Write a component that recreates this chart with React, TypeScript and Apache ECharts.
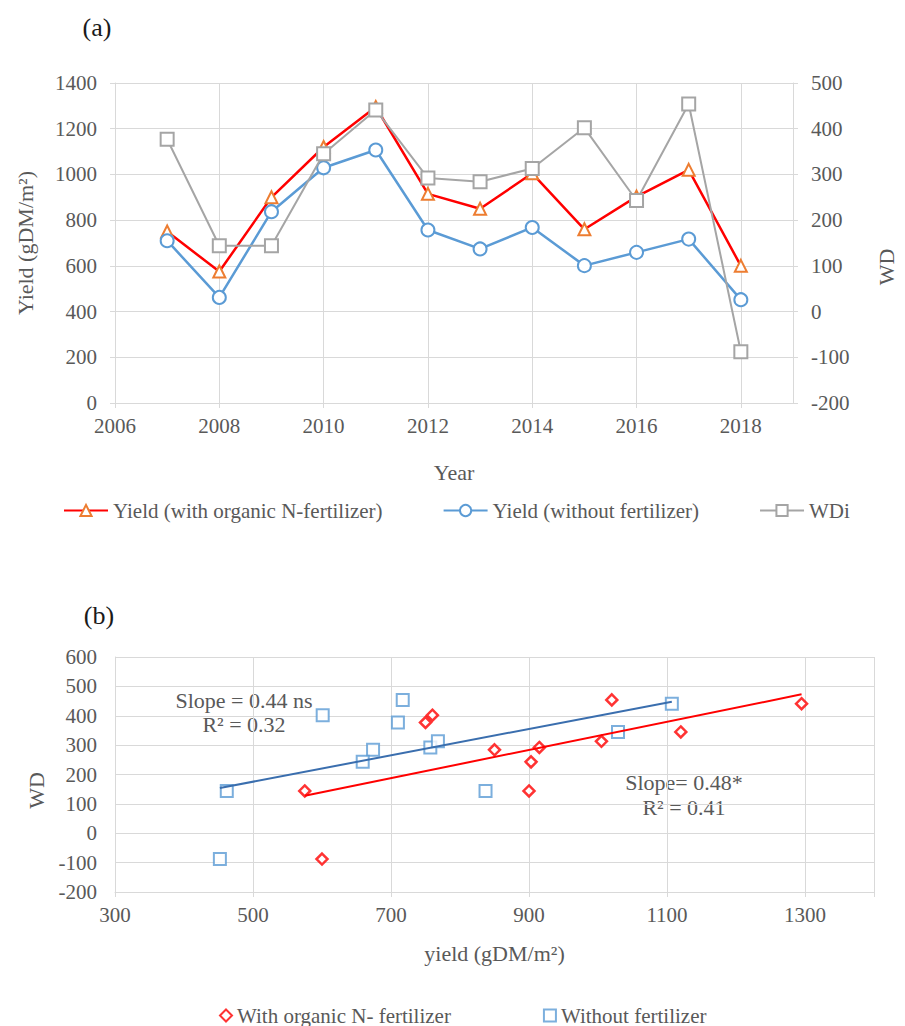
import React, { useEffect, useRef } from "react";
import * as echarts from "echarts";

// ---- data ----
const years = [2007, 2008, 2009, 2010, 2011, 2012, 2013, 2014, 2015, 2016, 2017, 2018];
const yieldOrganic = [750, 575, 900, 1120, 1295, 915, 850, 1005, 760, 903, 1020, 600];
const yieldNoFert = [710, 462, 837, 1029, 1107, 757, 674, 768, 601, 659, 717, 452];
const wdi = [377, 144, 144, 345, 441, 292, 284, 313, 402, 243, 454, -88];

const leftTicks = { min: 0, max: 1400, interval: 200 };
const rightTicks = { min: -200, max: 500, interval: 100 };
const yearTicks = { min: 2006, max: 2019, interval: 2 };
const scatterYTicks = { min: -200, max: 600, interval: 100 };
const scatterXLabels = [300, 500, 700, 900, 1100, 1300];
const scatterXLines = [300, 500, 700, 900, 1100, 1300, 1400];

const nameOrganic = "Yield (with organic N-fertilizer)";
const nameNoFert = "Yield (without fertilizer)";
const nameWDi = "WDi";
const nameScOrganic = "With organic N- fertilizer";
const nameScNoFert = "Without fertilizer";

const annNoFert = ["Slope = 0.44 ns", "R\u00B2 = 0.32"];
const annOrganic = ["Slope= 0.48*", "R\u00B2 = 0.41"];

function trend(xs: number[], ys: number[]) {
  const n = xs.length;
  const mx = xs.reduce((a, b) => a + b, 0) / n;
  const my = ys.reduce((a, b) => a + b, 0) / n;
  let sxy = 0;
  let sxx = 0;
  for (let i = 0; i < n; i++) {
    sxy += (xs[i] - mx) * (ys[i] - my);
    sxx += (xs[i] - mx) * (xs[i] - mx);
  }
  const b = sxy / sxx;
  const a = my - b * mx;
  const lo = Math.min(...xs);
  const hi = Math.max(...xs);
  return [
    [lo, a + b * lo],
    [hi, a + b * hi],
  ];
}

const FF = "Liberation Serif";
const TXT = "#595959";
const GRID = "#D9D9D9";

const plain = (v: number) => String(v);
const labelStyle = (margin: number) => ({
  color: TXT,
  fontSize: 21,
  fontFamily: FF,
  margin,
  formatter: plain,
});
const nameStyle = { color: TXT, fontSize: 22, fontFamily: FF };
const lineStyleGrid = { lineStyle: { color: GRID, width: 1 } };

export default function App() {
  const ref = useRef<HTMLDivElement>(null);
  useEffect(() => {
    document.body.style.margin = "0";
    const chart = echarts.init(ref.current!, null, { renderer: "svg" });
    const option: any = {
      animation: false,
      backgroundColor: "#FFFFFF",
      textStyle: { fontFamily: FF },
      grid: [
        { left: 115, top: 83, width: 682, height: 320 },
        { left: 115, top: 657, width: 759, height: 235 },
      ],
      xAxis: [
        {
          type: "value",
          gridIndex: 0,
          ...yearTicks,
          name: "Year",
          nameLocation: "middle",
          nameGap: 58,
          nameTextStyle: nameStyle,
          axisLine: { show: true, onZero: false, ...lineStyleGrid },
          axisTick: { show: true, length: 5, ...lineStyleGrid },
          axisLabel: { ...labelStyle(12), showMaxLabel: false },
          splitLine: { show: true, ...lineStyleGrid },
        },
        {
          type: "value",
          gridIndex: 1,
          min: 300,
          max: 1400,
          name: "yield (gDM/m\u00B2)",
          nameLocation: "middle",
          nameGap: 50,
          nameTextStyle: nameStyle,
          axisLine: { show: true, onZero: false, ...lineStyleGrid },
          axisTick: { show: true, length: 5, customValues: scatterXLines, ...lineStyleGrid },
          axisLabel: { ...labelStyle(12), customValues: scatterXLabels },
          splitLine: { show: true, ...lineStyleGrid },
        },
      ],
      yAxis: [
        {
          type: "value",
          gridIndex: 0,
          position: "left",
          ...leftTicks,
          name: "Yield (gDM/m\u00B2)",
          nameLocation: "middle",
          nameGap: 79,
          nameRotate: 90,
          nameTextStyle: nameStyle,
          axisLine: { show: true, ...lineStyleGrid },
          axisTick: { show: true, length: 5, ...lineStyleGrid },
          axisLabel: labelStyle(18),
          splitLine: { show: true, ...lineStyleGrid },
        },
        {
          type: "value",
          gridIndex: 0,
          position: "right",
          ...rightTicks,
          name: "WD",
          nameLocation: "middle",
          nameGap: 82,
          nameRotate: 90,
          nameTextStyle: { ...nameStyle, padding: [0, 48, 0, 0] },
          axisLine: { show: true, ...lineStyleGrid },
          axisTick: { show: true, length: 5, ...lineStyleGrid },
          axisLabel: labelStyle(18),
          splitLine: { show: false },
        },
        {
          type: "value",
          gridIndex: 1,
          position: "left",
          ...scatterYTicks,
          name: "WD",
          nameLocation: "middle",
          nameGap: 67,
          nameRotate: 90,
          nameTextStyle: { ...nameStyle, padding: [0, 32, 0, 0] },
          axisLine: { show: true, onZero: false, ...lineStyleGrid },
          axisTick: { show: false },
          axisLabel: labelStyle(18),
          splitLine: { show: true, ...lineStyleGrid },
        },
      ],
      legend: [
        {
          data: [nameOrganic, nameNoFert, nameWDi],
          left: 63,
          top: 500,
          padding: 0,
          itemWidth: 44,
          itemHeight: 14,
          itemGap: 60,
          textStyle: { color: TXT, fontSize: 21, fontFamily: FF },
        },
        {
          data: [nameScOrganic, nameScNoFert],
          left: 219,
          top: 1005,
          padding: 0,
          itemWidth: 12,
          itemHeight: 12,
          itemGap: 92,
          textStyle: { color: TXT, fontSize: 21, fontFamily: FF },
        },
      ],
      series: [
        {
          name: nameOrganic,
          type: "line",
          xAxisIndex: 0,
          yAxisIndex: 0,
          data: years.map((y, i) => [y, yieldOrganic[i]]),
          symbol: "triangle",
          symbolSize: 12,
          lineStyle: { color: "#FF0000", width: 2.5 },
          itemStyle: { color: "#FFFFFF", borderColor: "#ED7D31", borderWidth: 2 },
          z: 2,
        },
        {
          name: nameNoFert,
          type: "line",
          xAxisIndex: 0,
          yAxisIndex: 0,
          data: years.map((y, i) => [y, yieldNoFert[i]]),
          symbol: "circle",
          symbolSize: 13,
          lineStyle: { color: "#5B9BD5", width: 2.5 },
          itemStyle: { color: "#FFFFFF", borderColor: "#5B9BD5", borderWidth: 2 },
          z: 3,
        },
        {
          name: nameWDi,
          type: "line",
          xAxisIndex: 0,
          yAxisIndex: 1,
          data: years.map((y, i) => [y, wdi[i]]),
          symbol: "rect",
          symbolSize: 13,
          lineStyle: { color: "#A5A5A5", width: 2 },
          itemStyle: { color: "#FFFFFF", borderColor: "#A5A5A5", borderWidth: 2 },
          z: 4,
        },
        {
          name: nameScOrganic,
          type: "scatter",
          xAxisIndex: 1,
          yAxisIndex: 2,
          data: yieldOrganic.map((x, i) => [x, wdi[i]]),
          symbol: "diamond",
          symbolSize: 11,
          itemStyle: { color: "#FFFFFF", borderColor: "#FF0000", borderWidth: 2.5 },
          z: 2,
        },
        {
          name: nameScNoFert,
          type: "scatter",
          xAxisIndex: 1,
          yAxisIndex: 2,
          data: yieldNoFert.map((x, i) => [x, wdi[i]]),
          symbol: "rect",
          symbolSize: 12,
          itemStyle: { color: "#FFFFFF", borderColor: "#5B9BD5", borderWidth: 2 },
          z: 2,
        },
        {
          name: "trend-nofert",
          type: "line",
          xAxisIndex: 1,
          yAxisIndex: 2,
          data: trend(yieldNoFert, wdi),
          symbol: "none",
          lineStyle: { color: "#3A6EAE", width: 2 },
          silent: true,
          z: 3,
        },
        {
          name: "trend-organic",
          type: "line",
          xAxisIndex: 1,
          yAxisIndex: 2,
          data: trend(yieldOrganic, wdi),
          symbol: "none",
          lineStyle: { color: "#FF0000", width: 2 },
          silent: true,
          z: 3,
        },
      ],
      graphic: [
        {
          type: "text",
          x: 97,
          y: 27,
          style: { text: "(a)", fill: "#1a1a1a", font: `26px ${FF}`, align: "center", verticalAlign: "middle" },
        },
        {
          type: "text",
          x: 99,
          y: 615,
          style: { text: "(b)", fill: "#1a1a1a", font: `26px ${FF}`, align: "center", verticalAlign: "middle" },
        },
        {
          type: "text",
          x: 244,
          y: 700,
          style: { text: annNoFert[0], fill: TXT, font: `22px ${FF}`, align: "center", verticalAlign: "middle" },
        },
        {
          type: "text",
          x: 244,
          y: 724,
          style: { text: annNoFert[1], fill: TXT, font: `22px ${FF}`, align: "center", verticalAlign: "middle" },
        },
        {
          type: "text",
          x: 684,
          y: 782,
          style: { text: annOrganic[0], fill: TXT, font: `22px ${FF}`, align: "center", verticalAlign: "middle" },
        },
        {
          type: "text",
          x: 684,
          y: 807,
          style: { text: annOrganic[1], fill: TXT, font: `22px ${FF}`, align: "center", verticalAlign: "middle" },
        },
      ],
    };
    chart.setOption(option);
    return () => chart.dispose();
  }, []);
  return <div ref={ref} style={{ width: 905, height: 1026 }} />;
}
